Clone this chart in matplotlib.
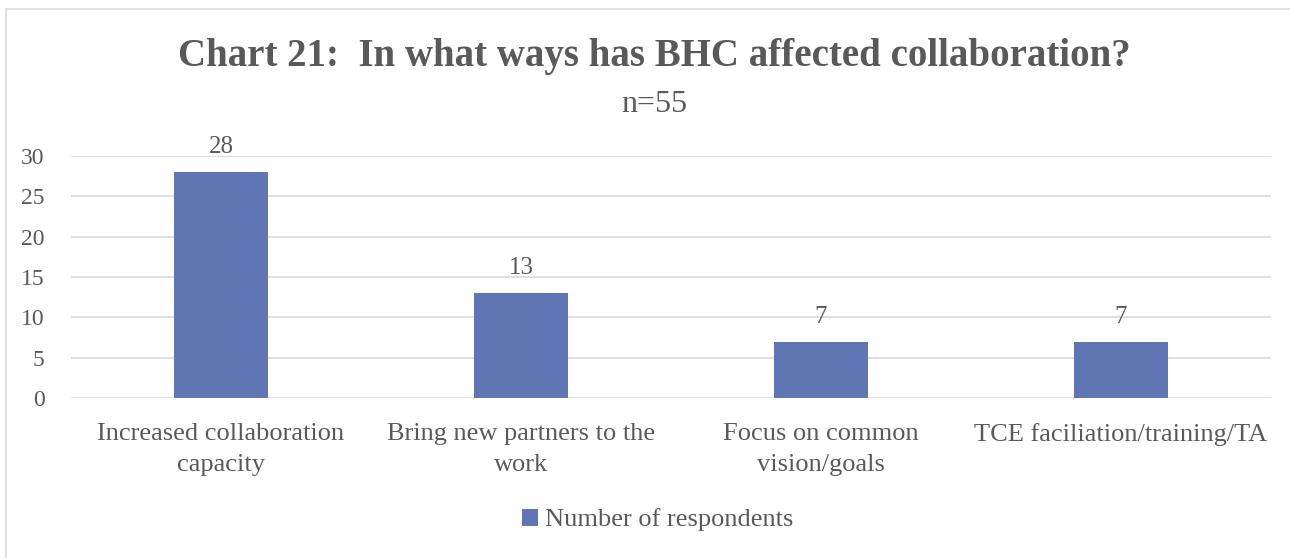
import numpy as np
import matplotlib.pyplot as plt
from matplotlib.patches import Rectangle

categories = ['Increased collaboration\ncapacity', 'Bring new partners to the\nwork',
              'Focus on common\nvision/goals', 'TCE faciliation/training/TA']
counts = [28, 13, 7, 7]
series_name = 'Number of respondents'
yticks = [0, 5, 10, 15, 20, 25, 30]

grey = '#595959'
bar_col = '#6076B4'
plt.rcParams['font.family'] = ['Liberation Serif', 'DejaVu Serif']

fig = plt.figure(figsize=(12.9, 5.58), dpi=100)
# outer chart frame
fig.patches.append(Rectangle((6/1290, -0.01), 1.02, 1 - 9/558 + 0.01, transform=fig.transFigure,
                             fill=False, edgecolor='#D9D9D9', lw=1.2))
ax = fig.add_axes([71/1290, 160/558, 1200/1290, 242/558])

x = np.arange(len(categories))
bars = ax.bar(x, counts, width=0.315, color=bar_col, label=series_name, zorder=3)
for b, v in zip(bars, counts):
    ax.annotate(str(v), (b.get_x() + b.get_width()/2, v), xytext=(0, 10),
                textcoords='offset points', ha='center', va='bottom',
                fontsize=18, color=grey)

ax.set_xlim(-0.5, len(categories) - 0.5)
ax.set_ylim(0, 30)
ax.set_yticks(yticks)
ax.set_xticks(x)
ax.set_xticklabels(categories, fontsize=19, color=grey, linespacing=1.52)
ax.tick_params(axis='y', labelsize=17, labelcolor=grey, length=0, pad=19)
ax.tick_params(axis='x', length=0, pad=18)
ax.grid(axis='y', color='#D9D9D9', lw=1.2, zorder=0)
for s in ax.spines.values():
    s.set_visible(False)

fig.text(0.507, 1 - 56/558, 'Chart 21:  In what ways has BHC affected collaboration?',
         ha='center', va='center', fontsize=28, fontweight='bold', color=grey)
fig.text(0.507, 1 - 104/558, 'n=55', ha='center', va='center', fontsize=23, color=grey)

fig.legend(handles=[bars], labels=[series_name], loc='center', bbox_to_anchor=(0.51, 1 - 520/558),
           frameon=False, fontsize=19, handlelength=0.6, handleheight=0.6, handletextpad=0.25,
           labelcolor=grey)

fig.savefig('out.png', dpi=100)
